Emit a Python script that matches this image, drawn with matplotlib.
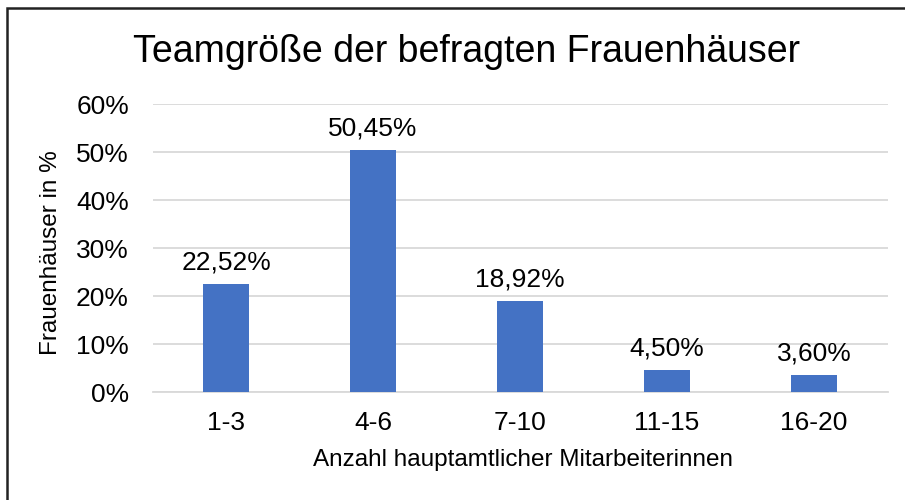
import matplotlib.pyplot as plt
from matplotlib.patches import Rectangle

plt.rcParams['font.family'] = ['Liberation Sans', 'DejaVu Sans']

# data
groups = ["1-3", "4-6", "7-10", "11-15", "16-20"]
shares = [22.52, 50.45, 18.92, 4.50, 3.60]
labels = ["22,52%", "50,45%", "18,92%", "4,50%", "3,60%"]
y_ticks = [0, 10, 20, 30, 40, 50, 60]

fig = plt.figure(figsize=(9.05, 5.0), dpi=100)
ax = fig.add_axes([152.5 / 905, 1 - 392 / 500, 735 / 905, 288 / 500])

x = range(len(groups))
ax.bar(x, shares, width=0.31, color="#4472C4", zorder=3)
for i, (v, lab) in enumerate(zip(shares, labels)):
    ax.text(i, v + 2.0, lab, ha="center", va="bottom", fontsize=19, color="#000000")

ax.set_xlim(-0.5, len(groups) - 0.5)
ax.set_ylim(0, 60)
ax.set_yticks(y_ticks)
ax.set_yticklabels([f"{t}%" for t in y_ticks], fontsize=19)
ax.set_xticks(list(x))
ax.set_xticklabels(groups, fontsize=19)
ax.tick_params(axis="y", length=0, pad=17)
ax.tick_params(axis="x", length=0, pad=14)

ax.grid(axis="y", color="#d9d9d9", linewidth=1.3, zorder=0)
for s in ["top", "right", "left"]:
    ax.spines[s].set_visible(False)
ax.spines["bottom"].set_color("#d9d9d9")
ax.spines["bottom"].set_linewidth(1.3)

fig.text(523 / 905, 1 - 460 / 500, "Anzahl hauptamtlicher Mitarbeiterinnen",
         ha="center", va="center", fontsize=17.5)
fig.text(51 / 905, 1 - 253 / 500, "Frauenhäuser in %", rotation=90,
         ha="center", va="center", fontsize=17.5)

fig.text(466 / 905, 1 - 52 / 500, "Teamgröße der befragten Frauenhäuser",
         ha="center", va="center", fontsize=27)

# outer border (right and bottom edges fall outside the image)
fig.patches.append(Rectangle((7 / 905, -10 / 500), 920 / 905, 502 / 500,
                             transform=fig.transFigure, fill=False,
                             edgecolor="#222222", linewidth=1.8))

fig.savefig("out.png", dpi=100)
